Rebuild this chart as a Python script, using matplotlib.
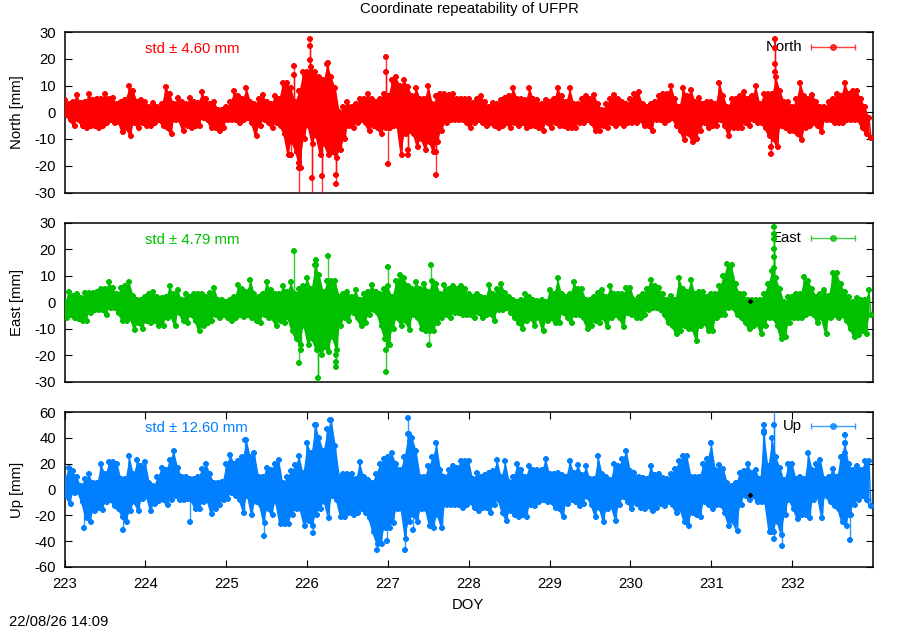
from matplotlib import pyplot as plt
import numpy as np

plt.rcParams['font.family'] = ['Liberation Sans', 'DejaVu Sans']
plt.rcParams['axes.unicode_minus'] = False

# upper and lower edge of the scatter, 20 bins per day, one row per day
north_hi = [
    4.5,3,4,6.5,3.5,4,7,4.5,5,5,7,5,5.5,3,4,4.5,10,8,4,4.5,
    4,2,3.5,2,3,9.5,7,3,5.5,4,3,5.5,4,3.5,7.5,5,3,4,1,1,
    2,4,8,6,5,9,4,3,5,6.5,4,3,6,5,11,11,9,4,8,15,
    15,17,15,13,12,18,13,9,0,2,4,2,3,5,5,7,5,4,5,7,
    6,12,13,10,12,9.5,6,9,5,5,10,3,6,7,7,6.5,7,5,5,5,
    5,3.5,5,6,4,2,3.5,3,4.5,5.5,6,9,5,5,4.5,9,5,4.5,3,4.5,
    4,5,9,6,4,9,3,3,5,6,5,6.5,3,1,3,5,6.5,5,4,3,
    5,7,7.5,3,2,3,4,6,7,7,10,5,2,9,6,8.5,4,5.5,3,4,
    4,3,11,6,2,5,5,6,7.5,5,6,10,3,7,7,7,13,8,4,4,
    2,5,11,6,5,6.5,4,2,2,4,5,7,6,11,7,8,8,5,2,-2]
north_lo = [
    -1,-3,-5,-3,-5,-6,-5,-5,-6,-5,-4,-3,-4,-3.5,-7.5,-6,-9,-4,-6,-4,
    -5,-5,-4,-3,-5,-6,-8,-3,-3,-7,-5,-6,-5,-5,-2,-3,-6,-6,-7,-6,
    -3,-3,-3,-4,-3,-2,-4,-9,-5,-3,-4,-6,-4,-5,-8,-16,-11,-15,-21,-10,
    -5,-12,-9,-16,-12,-16,-15,-17,-14,-10,-5,-6,-4,-3,-4,-7,-5,-6,-8,-6,
    -6,-5,-5,-16,-8,-7,-8,-13,-10,-14,-11,-15,-11,-7,-4,-3,-3,-3,-3,-4,
    -6,-4,-3,-4,-5,-4,-5,-6,-5,-4,-6,-4,-5,-4,-6,-5,-5,-6,-7,-4,
    -6,-4,-5,-5,-6,-6,-6,-4,-4,-3,-4,-7,-7,-5,-6,-4,-5,-4,-5,-4,
    -4,-4,-3,-5,-5,-7,-3,-3,-4,-3,-2,-5,-7,-10.5,-8,-11,-10,-7,-4,-6,
    -5,-5,-3,-5,-9,-6,-6,-6,-4,-5,-3,-4,-4,-6,-9,-10,-13,-5,-6,-7,
    -7,-8,-10.5,-6,-5,-4,-5,-7.5,-3,-3,-4,-4,-4,-3,-3,-3,-3,-6,-8,-9.5]
# lone excursions that stick out of the band
north_spike_doy = [225.80,225.835,225.835,225.90,225.90,225.90,225.90,226.04,226.04,226.04,226.065,226.065,226.18,226.18,
                   226.26,226.355,226.355,226.98,226.98,227.005,227.25,227.25,227.60,227.60,231.74,231.74,231.79,231.79,231.79,231.79]
north_spike_mm = [-16,17.3,14,-14,-19,-21,-40,27.5,24.7,19.5,-24.5,-40,-24,-40,
                  18.5,-26.7,-23.3,20.5,15,-19.5,-16,-14,-23.3,-15,-15.5,-13,27.5,24,18,15]

east_hi = [
    0,4,2.5,3,1.5,3.5,3.5,3.5,4,5,5,7.5,5.5,3,5.5,6,7.5,2.5,1,1,
    2,3,4,2,1.5,2,6,3,4.5,1,3,2,3,3,3,2,3.5,5.5,1,1,
    0,1,2,6.5,5,4,8.5,3,2,3,7.5,4.5,3,3,6,4,7.5,3,5,6,
    9,5,14,10.5,4,8,8,8,2,3,4,2,4.5,1,3,4,6.5,4,3,5,
    6,2,8,10.5,9,6,5,7.5,5,7,4,8,7,3,6.5,5,6,5,6,5,
    3,2,3,2,1.5,6.5,3,5,7,3.5,2,1,0,1,3,2,1,0.5,1,0,
    4.5,3,9,3,2,3,7.5,5,5,1,1,2,3.5,4.5,2,6,3,3,3,5.5,
    5.5,1,2,3,5,8.5,6,5.5,3,1,2.5,1,9,5,4,8.5,3,4,4,2,
    3,3,6,10,14.5,14,7,3,3,1,1,1,1,3,7,12,9,5,0,2,
    2,3,3,9.5,8,5,2,3,4.5,2.5,11,11,7,4,2,0,1.5,1,1,4.5]
east_lo = [
    -6,-5,-6,-6.5,-7,-7,-4,-3,-3,-3,-5,-2,-2,-4,-7,-7,-6,-10.5,-8,-10,
    -7,-8,-7,-9,-9,-6,-5,-9,-4,-7,-8,-5,-7,-11,-9,-8,-7,-5,-6,-5,
    -6,-7,-6,-5,-5.5,-5,-6,-7,-8,-5,-6,-6,-9,-7,-8,-6,-11,-14,-16,-9,
    -16,-14,-18,-18,-17,-19,-13,-18,-9,-6,-7,-4,-6,-9,-8,-5,-3,-4,-9,-14,
    -16,-10,-6,-9,-7,-10.5,-5,-6,-10,-11,-11,-11,-8,-6,-5,-6,-4,-4,-5,-5,
    -5,-6,-4,-6,-5,-4.5,-7,-3,-3,-2,-4,-6,-8,-10,-7,-6,-9,-6,-11,-7,
    -6,-8,-8,-4,-6,-8,-5,-5,-6,-10,-9,-7,-8,-6,-9.5,-6,-5,-6,-9.5,-4,
    -5,-6,-6,-5,-3,-2,-2,-3,-5,-8,-9,-12,-11,-9,-10,-10,-14.5,-9,-8,-11,
    -11,-6,-5,-5,-2,-2,-5,-6,-8,-10,-9,-8,-12,-9,-6,-6,-9,-14,-13,-8,
    -6,-6,-6,-5,-4,-5,-8,-6,-12,-6,-5,-6,-5,-7,-10,-13,-12.5,-11,-12,-5]
east_spike_doy = [225.835,225.90,225.92,226.11,226.11,226.13,226.13,226.18,226.255,226.355,226.355,226.355,226.96,226.98,226.98,227.0,
                  227.01,227.53,227.51,231.77,231.77,231.77,231.77,231.77,231.77]
east_spike_mm = [19.5,-23,-18,16,14,-28.5,-40,-20,17.5,-24.5,-22.5,-20,-14,-26.4,-18,13.5,
                 -16,14,-16,28.5,26,24,20,17,13]

up_hi = [
    8,17,14,10,3,8,12,5,5,20,12,21,21,20,8,8,26,12,23,18,
    21,5,3,10,17,15,23,30,17,10,10,8,8,10,16,20,12,5,5,6,
    20,27,20,22,25,38,25,28,10,10,17,15,20,23,5,10,14,19,26,13,
    36,28,50,40,30,47,54,34,10,12,12,12,8,21,10,7,5,12,20,24,
    25,28,20,15,25,43,40,30,10,10,18,25,36,15,10,15,18,17,22,22,
    22,8,13,10,11,13,14,23,10,22,6,10,20,15,10,18,15,15,15,24,
    12,12,13,11,10,22,13,19,11,18,8,8,26,12,10,7,20,18,24,30,
    14,13,10,9,8,18,11,12,9,8,12,16,22,26,26,10,10,10,20,24,
    36,15,19,16,5,3,5,13,14,20,13,15,8,44,18,40,25,17,7,20,
    20,8,10,8,28,15,20,23,8,10,16,10,25,36,20,15,18,15,22,22]
up_lo = [
    -5,-11,-3,-2,-10,-22,-25,-17,-14,-16,-10,-8,-13,-15,-21,-25,-17,-10,-17,-7,
    -5,-17,-11,-9,-8,-12,-8,-5,-8,-8,-7,-8,-15,-15,-10,-8,-19,-15,-12,-8,
    -7,-3,-5,-8,-18,-5,-20,-10,-12,-26,-15,-20,-10,-27,-27,-27,-20,-15,-15,-28,
    -24,-28,-20,-15,-10,-22,-5,-8,-21,-21,-18,-20,-18,-15,-18,-22,-33,-42,-42,-30,
    -30,-26,-15,-15,-38,-25,-20,-25,-15,-15,-28,-30,-20,-30,-12,-12,-12,-12,-14,-12,
    -10,-14,-17,-14,-14,-18,-12,-8,-18,-24,-17,-20,-21,-20,-21,-12,-13,-10,-8,-10,
    -10,-14,-15,-21,-11,-8,-10,-13,-11,-6,-12,-21,-14,-25,-15,-13,-24,-12,-6,-10,
    -15,-11,-14,-15,-13,-17,-14,-11,-13,-10,-12,-18,-15,-25,-28,-18,-20,-21,-10,-12,
    -15,-12,-12,-18,-28,-25,-32,-12,-5,-8,-5,-10,-10,-10,-33,-33,-25,-35,-20,-8,
    -15,-23,-20,-20,-22,-8,-5,-22,-5,-10,-13,-15,-25,-28,-20,-12,-8,-5,-8,-13]
up_spike_doy = [223.24,223.72,224.55,225.23,225.47,226.07,226.11,226.29,226.87,226.99,227.21,227.25,227.26,227.31,
                231.65,231.65,231.77,231.78,231.78,231.87,231.74,231.74,232.65,232.65,232.65,232.72,232.72]
up_spike_mm = [-30,-31,-25,38,-36,-34,50,54,-47,-40,-47,55,43,-31,
               50,45,-38,80,50,-44,-33,-28,42,36,28,-39,-20]

day_bins = np.arange(223, 233, 0.05)
year_ticks = list(range(223, 233))
north_ticks = [-30, -20, -10, 0, 10, 20, 30]
up_ticks = [-60, -40, -20, 0, 20, 40, 60]

W, H = 900.0, 630.0
LEFT, RIGHT = 64.5, 873.0
FS = 10.7


def panel(top, bottom, hi, lo, sp_x, sp_y, color, name, ylab, ylim, yticks, std, black_y=None):
    ax = fig.add_axes([LEFT / W, 1 - bottom / H, (RIGHT - LEFT) / W, (bottom - top) / H])
    x = np.empty(len(day_bins) * 2)
    y = np.empty(len(day_bins) * 2)
    x[0::2] = day_bins
    x[1::2] = day_bins + 0.025
    y[0::2] = hi
    y[1::2] = lo
    ax.axhline(0, color='k', lw=0.5, zorder=1)
    ax.fill_between(day_bins, lo, hi, color=color, lw=0, zorder=3)
    ax.plot(x, y, '-8', color=color, lw=1, ms=5.4, mew=0, zorder=3)
    ax.vlines(sp_x, 0, sp_y, color=color, lw=1, alpha=0.8, zorder=3)
    ax.plot(sp_x, sp_y, '8', color=color, ms=5.4, mew=0, zorder=3)
    if black_y is not None:
        ax.plot([231.48], [black_y], 'D', color='k', ms=3, mew=0, zorder=4)
    ax.set_xlim(223, 233)
    ax.set_ylim(*ylim)
    ax.set_yticks(yticks)
    ax.set_ylabel(ylab, fontsize=FS, labelpad=0)
    ax.yaxis.set_label_coords(-0.0506, 0.5)
    ax.tick_params(axis='y', direction='in', left=True, right=True, length=5, width=0.8, labelsize=FS, pad=6)
    for s in ax.spines.values():
        s.set_linewidth(1.1)
    # std note and key, the text sits under the data as in the original
    ax.text(0.0995, 0.895, std, transform=ax.transAxes, color=color, fontsize=FS, va='center', zorder=2)
    ax.text(0.9122, 0.9065, name, transform=ax.transAxes, color='k', fontsize=FS, ha='right', va='center', zorder=2)
    ax.errorbar([0.9505], [0.9065], xerr=[0.0272], transform=ax.transAxes, color=color, marker='o', ms=4,
                lw=1, alpha=0.75, capsize=2.5, capthick=1, zorder=5)
    return ax


fig = plt.figure(figsize=(9, 6.3), dpi=100)

ax1 = panel(32, 192.5, north_hi, north_lo, north_spike_doy, north_spike_mm,
            '#ff0000', 'North', 'North [mm]', (-30, 30), north_ticks, 'std \u00b1 4.60 mm')
ax1.set_xticks([])
ax2 = panel(223, 381.5, east_hi, east_lo, east_spike_doy, east_spike_mm,
            '#00c000', 'East', 'East [mm]', (-30, 30), north_ticks, 'std \u00b1 4.79 mm', black_y=0.5)
ax2.set_xticks([])
ax3 = panel(412, 567, up_hi, up_lo, up_spike_doy, up_spike_mm,
            '#0080ff', 'Up', 'Up [mm]', (-60, 60), up_ticks, 'std \u00b1 12.60 mm', black_y=-4)
ax3.set_xticks(year_ticks)
ax3.tick_params(axis='x', direction='in', top=True, bottom=True, length=5, width=0.8, labelsize=FS, pad=7)

fig.text(469 / W, 1 - 9 / H, 'Coordinate repeatability of UFPR', ha='center', va='center', fontsize=FS)
fig.text(468 / W, 1 - 605 / H, 'DOY', ha='center', va='center', fontsize=FS)
fig.text(9 / W, 1 - 622 / H, '22/08/26 14:09', ha='left', va='center', fontsize=FS)

fig.savefig('out.png', dpi=100)
